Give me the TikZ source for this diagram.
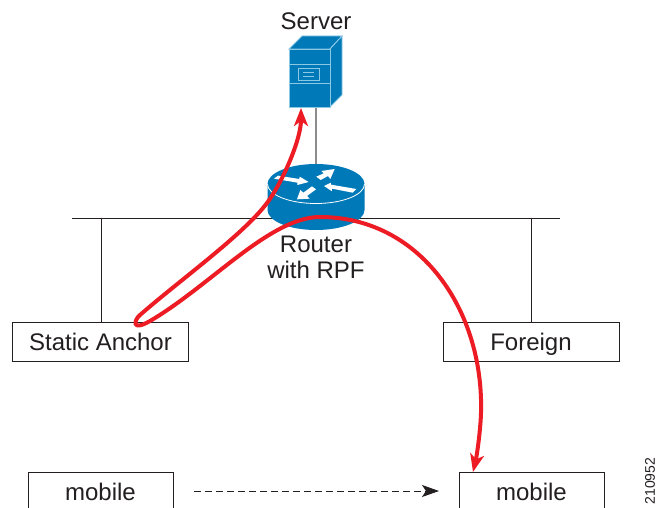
\documentclass[tikz,border=0pt]{standalone}
\usepackage{fontspec}
\setmainfont{Liberation Sans}
\usetikzlibrary{arrows.meta}
\definecolor{ciscoblue}{HTML}{0079B8}
\definecolor{inkc}{HTML}{231F20}
\definecolor{redc}{HTML}{ED1C24}
\definecolor{iconline}{HTML}{8CC8E4}
\tikzset{
  px/.style={x=1pt,y=-1pt},
  lbl/.style={font=\fontsize{24}{26}\selectfont,text=inkc,inner sep=0pt,align=center},
  boxn/.style={draw=inkc,line width=1pt,fill=white,inner sep=0pt,anchor=north west},
  wire/.style={draw=inkc,line width=0.9pt},
  redpath/.style={draw=redc,line width=4pt,{Stealth[length=18pt,width=14pt,inset=5pt]}-{Stealth[length=18pt,width=14pt,inset=5pt]}},
}
\begin{document}
\begin{tikzpicture}[px]
\useasboundingbox (0,0) rectangle (657,508);
\clip (0,0) rectangle (657,508);
\fill[white] (0,0) rectangle (657,508);
% LAN
\coordinate (lanL) at (72,218);
\coordinate (lanR) at (560,218);
\coordinate (tapL) at (101,218);
\coordinate (tapR) at (531,218);
\coordinate (tapS) at (316,170);
% boxes
\node[boxn,minimum width=176pt,minimum height=39pt] (anchor) at (12,322) {};
\node[lbl,anchor=base] (anchortext) at (100.5,350.5) {Static Anchor};
\node[boxn,minimum width=176pt,minimum height=39pt] (foreign) at (443,322) {};
\node[lbl,anchor=base] (foreigntext) at (531,350.5) {Foreign};
\node[boxn,minimum width=145pt,minimum height=60pt] (mobA) at (28,472) {};
\node[lbl,anchor=base] (mobAtext) at (100.5,500) {mobile};
\node[boxn,minimum width=145pt,minimum height=60pt] (mobB) at (459,472) {};
\node[lbl,anchor=base] (mobBtext) at (531.5,500) {mobile};
\draw[wire] (lanL) -- (lanR);
\draw[wire] (tapL) -- (tapL |- anchor.north);
\draw[wire] (tapR) -- (tapR |- foreign.north);
% server
\coordinate (srvB) at (316,107);
\draw[draw=gray!90,line width=1.2pt] (srvB) -- (tapS);
\begin{scope}[draw=iconline,line width=0.9pt,fill=ciscoblue]
\filldraw (289,49) -- (302,36) -- (342,36) -- (330,49) -- cycle;
\filldraw (330,49) -- (342,36) -- (342,95) -- (330,107) -- cycle;
\filldraw (289,49) rectangle (330,107);
\draw (289,64) -- (330,64) (289,83) -- (330,83);
\draw (298,68) rectangle (319,80);
\draw (303,72) -- (314,72) (303,76) -- (314,76);
\end{scope}
% router
\fill[ciscoblue] (267.5,184) -- (267.5,210) arc[start angle=180,end angle=360,x radius=48.5pt,y radius=20pt] -- (364.5,184) -- cycle;
\fill[ciscoblue] (316,184) ellipse[x radius=48.5pt,y radius=20pt];
\draw[white,line width=0.8pt] (267.5,184) arc[start angle=180,end angle=360,x radius=48.5pt,y radius=19.5pt];
\begin{scope}[shift={(262,160)},x=0.3333pt,y=-0.3333pt]
\fill[white] (36,56) -- (48,47) -- (112,57) -- (113,50) -- (140,66) -- (106,75) -- (106,68) -- cycle;
\fill[white] (163,50) -- (185,40) -- (178,33) -- (218,27) -- (205,57) -- (198,48) -- (176,60) -- cycle;
\fill[white] (186,78) -- (207,68) -- (207,74) -- (283,87) -- (272,98) -- (210,86) -- (210,94) -- cycle;
\fill[white] (105,118) -- (115,90) -- (124,98) -- (150,79) -- (162,88) -- (135,108) -- (143,116) -- cycle;
\end{scope}
\node[lbl] (router) at (316,257.5) {Router\\with RPF};
\node[lbl] (server) at (316,21) {Server};
% dashed
\coordinate (dashA) at (194,491);
\coordinate (dashB) at (439,491);
\draw[draw=inkc,line width=0.9pt,dash pattern=on 6.5pt off 4.5pt,-{Stealth[length=17pt,width=12pt,inset=4pt]}] (dashA) -- (dashB);
% red
\coordinate (redS) at (301,108);
\coordinate (redM) at (473,472);
\draw[redpath] (redS) .. controls (301,140) and (282,183) .. (267,203)
  .. controls (243,235) and (180,280) .. (140,315)
  .. controls (134,320) and (131,332) .. (150,321)
  .. controls (210,286) and (270,217) .. (320,217)
  .. controls (420,217) and (484,310) .. (481,413)
  .. controls (480.5,430) and (477,455) .. (redM);
\node[font=\fontsize{14}{14}\selectfont,text=inkc,rotate=90,inner sep=0pt] (fig) at (650,481) {210952};
\end{tikzpicture}
\end{document}
